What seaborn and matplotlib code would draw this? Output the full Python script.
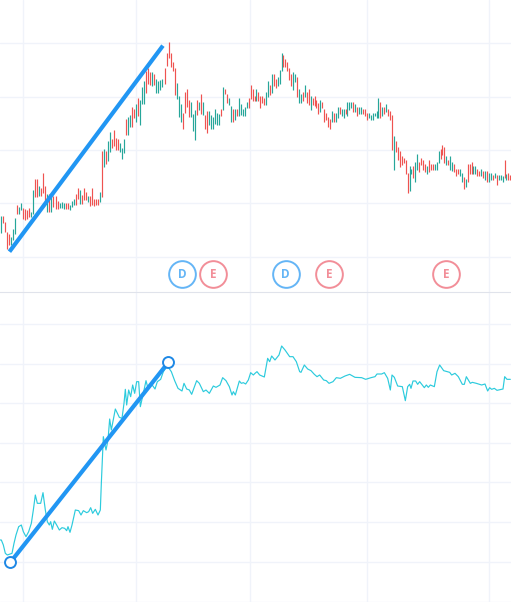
import numpy as np
import pandas as pd
import seaborn as sns
import matplotlib
matplotlib.use("Agg")
import matplotlib.pyplot as plt

# Price levels are read as distance below a reference level of 700.
REF = 700
left_top = [558,558,576,606,612,620,597,564,525,530,519,533,537,540,534,545,480,447,447,468,474,430,468,492,492,498,498,498,513,519,516,519,519,519,525,513,507,492,474,480,495,474,486,498,498,474,507,507,507,486,363,357,363,333,306,327,300,324,327,339,354,327,267,261,255,231,237,222,204,210,171,153,123,114,126,126,132,147,153,150,147,114,69,36,69,96,114,159,198,222,249,186,177,210,216,252,240,210,216,192,216,255,243,243,255,261,237,249,252,237,171,177,192,204,228,237,237,237,204,222,237,231,216,204,165,177,198]
left_bot = [608,580,605,657,645,645,630,612,552,552,540,567,570,567,560,560,552,500,500,498,498,490,522,546,546,546,530,537,537,534,534,537,537,537,540,531,525,525,507,522,522,510,510,516,528,525,528,525,525,516,500,410,402,393,366,354,348,360,360,366,387,369,315,315,291,291,264,276,258,285,222,222,189,162,165,168,165,189,189,180,171,162,108,84,111,123,195,207,261,276,297,249,231,261,261,303,330,255,240,252,255,297,309,285,297,297,282,285,285,258,240,192,219,225,276,276,270,258,258,255,258,258,234,234,207,213,213]
left_up = "GRRRRGGGRGGRRRRGGRRGRRRGRGRRRGGGRRGGGRRGRRRGRRRRRGRGRGGRRRRGGGRGGRRGRGGGRRRGRGGGGRRRRRRGGGRRRRGGGRGRGRRGGGGGGRGRRGGRGRGGGGGRR"
right_top = [177,186,198,198,204,186,153,165,132,132,147,141,120,69,75,87,96,114,132,126,132,141,177,192,186,165,186,177,198,204,198,210,219,210,216,237,249,261,267,243,249,249,231,231,237,237,237,216,216,216,216,222,231,231,231,237,237,249,249,255,249,249,243,204,216,231,231,222,237,243,255,318,333,351,363,378,384,390,429,408,417,408,396,372,396,384,390,402,408,390,402,402,402,396,363,357,345,351,378,390,378,396,402,417,417,417,429,441,447,402,402,396,408,408,417,423,417,423,423,423,429,429,435,429,435,435,435,438,390,432,429,435]
right_bot = [213,213,234,219,225,225,201,195,189,168,174,168,162,123,111,111,123,150,168,180,156,201,219,219,213,201,219,225,240,225,228,234,252,246,234,276,270,291,297,276,276,276,264,252,258,264,252,258,240,234,246,246,258,252,252,252,258,270,264,270,270,258,264,264,264,258,252,246,258,270,360,420,366,390,411,405,399,432,489,483,432,444,456,420,426,405,420,426,432,426,420,420,420,420,399,387,375,399,405,405,420,423,426,438,432,438,456,477,471,456,432,432,432,432,438,438,438,444,450,456,456,450,450,444,465,450,450,456,444,450,450,450]
right_up = "GRRRRGGRGRRGGGRRRRRGGRGGRGRRGRRRRGRRRRRGRGGRGGRGGGRGRGGRRRGGGGGGRGRGRRRGRRRRRRRGGRGGRRRRGRRRGGGRRRGRGGRRRGGRGRRRGGRRGRGRGGRGRGGGRGRR"
right_up = (right_up + "R" * len(right_top))[:len(right_top)]
left_up = (left_up + "R" * len(left_top))[:len(left_top)]

line_t_left = [0,4,10,16,22,36,42,48,56,64,70,78,86,94,100,106,112,122,129,136,142,148,152,157,163,170,178,186,194,200,204,210,216,226,236,243,250,260,266,272,278,286,294,301,304,310,318,324,329,334,346,358,366,372,376,380,386,392,398,404,410,416,421,430,438,444,450,458,465,472,482,490,497,505,514,524,534,546,552,560,568,575,590,598,610,618,628,640,648,660,668,678,688,696,700,706,718,724,730,737,745,752,760]
line_v_left = [600,600,615,640,645,640,610,585,560,555,575,590,575,550,510,465,490,490,458,510,545,555,545,568,543,555,570,563,565,572,560,577,555,510,512,525,512,518,515,503,520,508,525,510,430,290,330,300,237,270,207,232,235,190,148,195,150,170,135,160,125,125,200,160,122,145,135,137,147,125,118,95,85,82,95,122,145,153,130,147,150,163,122,130,155,150,160,138,142,135,113,122,140,165,155,165,123,130,128,132,120,98,105]
line_t_right = [0,6,14,28,38,44,50,60,72,80,90,104,114,124,134,138,148,158,168,178,186,194,206,214,222,234,244,256,270,284,300,320,332,348,360,366,380,388,398,406,411,418,428,442,451,458,464,468,474,482,488,494,508,514,520,526,538,546,554,566,584,590,600,610,622,628,634,646,652,664,680,690,698,704,710,718,726,744,749,756,766]
line_v_right = [100,95,105,111,55,65,48,60,45,18,30,50,50,65,95,97,75,87,92,103,110,105,120,122,130,125,113,115,108,103,112,113,118,113,110,102,102,98,115,150,105,112,138,140,182,140,133,145,123,123,133,125,143,135,142,135,140,95,75,92,97,105,100,110,133,133,110,130,127,130,135,132,153,143,148,145,151,147,110,118,118]

trend_t = [32, 485]
trend_top = [660, 52]
trend_t2 = [31, 505]
trend_low = [667, 67]

event_t = [547, 640, 857, 988, 1338]
event_lab = ["D", "E", "D", "E", "E"]
event_level = 732

up_grid = [40, 200, 360, 520, 680]
lo_levels = [-48, 72, 190, 310, 427, 547, 667, 785]
v_grid = [70, 409, 751, 1102, 1468]

GREEN, RED = "#26A69A", "#EF5350"
GRID = "#F0F3FA"
BLUE = "#2196F3"

sns.set_style("white")
plt.rcParams["font.family"] = ["Open Sans", "DejaVu Sans"]

W, H = 511, 602
fig = plt.figure(figsize=(W/100, H/100), dpi=100)
split = 292
ax1 = fig.add_axes([0, 1 - split/H, 1, split/H])
ax2 = fig.add_axes([0, 0, 1, (H - split)/H])

tL = np.linspace(3, 766, len(left_top))
tR = np.linspace(769, 1531, len(right_top))
df = pd.DataFrame({
    "t": np.r_[tL, tR],
    "high": REF - np.array(left_top + right_top),
    "low": REF - np.array(left_bot + right_bot),
    "dir": list(left_up + right_up),
})

for ax in (ax1, ax2):
    ax.set_xlim(0, W*3)
    ax.set_xticks(v_grid)
    ax.grid(True, color=GRID, lw=1.0)
    ax.set_axisbelow(True)
    ax.tick_params(length=0, labelleft=False, labelbottom=False)
    sns.despine(ax=ax, left=True, right=True, top=True, bottom=True)

ax1.set_ylim(REF - 786, REF + 90)
ax1.set_yticks([REF - v for v in up_grid])
for d, c in (("G", GREEN), ("R", RED)):
    s = df[df["dir"] == d]
    ax1.vlines(s["t"], s["low"], s["high"], color=c, lw=0.85, zorder=2)

ax1.plot(trend_t, REF - np.array(trend_top), color=BLUE, lw=3.0, zorder=4, solid_capstyle="projecting")

ev_colors = {"D": "#64B5F6", "E": "#F28E98"}
for t, lab in zip(event_t, event_lab):
    c = ev_colors[lab]
    ax1.scatter([t], [REF - event_level], s=370, facecolor="white", edgecolor=c, lw=1.4, zorder=5)
    ax1.text(t, REF - event_level, lab, color=c, ha="center", va="center",
             fontsize=8.5, fontweight="bold", zorder=6)

ax2.set_ylim(800 - 786, 800 + 144)
ax2.set_yticks([800 - v for v in lo_levels])
line = pd.DataFrame({
    "t": np.r_[line_t_left, 765 + np.array(line_t_right)],
    "v": 800 - np.r_[line_v_left, np.array(line_v_right)],
})
sns.lineplot(data=line, x="t", y="v", ax=ax2, color="#2CCBDD", lw=0.85,
             estimator=None, sort=False, zorder=2)
ax2.set_xlabel("")
ax2.set_ylabel("")
ax2.plot(trend_t2, 800 - np.array(trend_low), color=BLUE, lw=3.0, zorder=4, solid_capstyle="butt")
ax2.scatter(trend_t2, 800 - np.array(trend_low), s=62, facecolor="white", edgecolor="#1E88E5", lw=1.4, zorder=5)

ax2.spines["top"].set_visible(True)
ax2.spines["top"].set_color("#E0E3EB")
ax2.spines["top"].set_linewidth(0.8)
ax2.set_zorder(3)
ax2.patch.set_alpha(0)

fig.savefig("out.png", dpi=100, facecolor="white")
